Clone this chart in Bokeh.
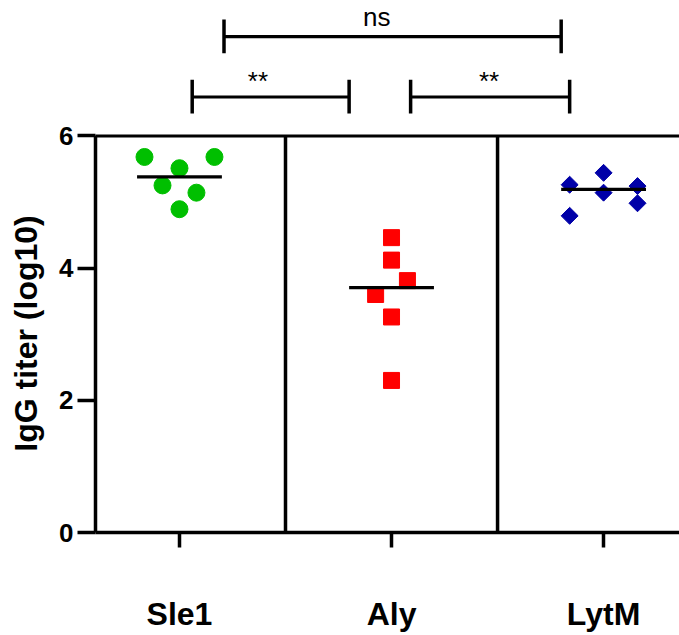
import numpy as np
from bokeh.plotting import figure
from bokeh.layouts import column
from bokeh.models import FixedTicker, Span, Range1d
from bokeh.core.properties import value
from bokeh.embed import file_html
from bokeh.resources import INLINE

# ---- data ----
groups = ["Sle1", "Aly", "LytM"]
sle1 = [5.68, 5.51, 5.68, 5.25, 5.14, 4.89]
aly = [4.46, 4.12, 3.81, 3.60, 3.26, 2.30]
lytm = [5.44, 5.26, 5.14, 5.24, 4.98, 4.79]
y_ticks = [0, 2, 4, 6]
comparisons = [("Sle1", "LytM", "ns"), ("Sle1", "Aly", "**"), ("Aly", "LytM", "**")]

# ---- layout (scatter offsets, bracket geometry) ----
sle1_dx = [-0.165, 0.0, 0.165, -0.08, 0.08, 0.0]
aly_dx = [0.0, 0.0, 0.075, -0.075, 0.0, 0.0]
lytm_dx = [0.0, -0.16, 0.0, 0.16, 0.16, -0.16]
bracket_geom = [  # x0, x1, y_line, cap_lo, cap_hi, text_x, text_y
    (0.21, 1.80, 7.50, 7.25, 7.76, 0.93, 7.80),
    (0.06, 0.80, 6.59, 6.34, 6.85, 0.37, 6.83),
    (1.09, 1.84, 6.59, 6.34, 6.85, 1.46, 6.83),
]

FONT = "Liberation Sans"
LW = 3.5
XR = Range1d(-0.396, 2.358)

# ---- top panel: significance brackets ----
top = figure(width=679, height=119, output_backend="svg", toolbar_location=None,
             x_range=XR, y_range=Range1d(6.25, 8.047),
             x_axis_location=None, y_axis_location=None,
             min_border_left=95, min_border_right=0, min_border_top=0,
             min_border_bottom=0)
top.outline_line_color = None
top.xgrid.visible = False
top.ygrid.visible = False
for (g0, g1, lab), (x0, x1, yl, clo, chi, tx, ty) in zip(comparisons, bracket_geom):
    top.segment(x0=[x0], y0=[yl], x1=[x1], y1=[yl], line_color="black", line_width=3.2)
    top.segment(x0=[x0, x1], y0=[clo, clo], x1=[x0, x1], y1=[chi, chi],
                line_color="black", line_width=3.5)
    top.text(x=[tx], y=[ty], text=[lab], text_align="center",
             text_baseline="alphabetic", text_font=value(FONT),
             text_font_size="26px", text_color="black")

# ---- main panel ----
p = figure(width=679, height=516, output_backend="svg", toolbar_location=None,
           x_range=XR, y_range=Range1d(0, 6.02),
           min_border_left=95, min_border_right=0, min_border_top=15,
           min_border_bottom=103)
p.outline_line_color = None
p.xgrid.visible = False
p.ygrid.visible = False

ya = p.yaxis[0]
ya.ticker = FixedTicker(ticks=y_ticks)
ya.bounds = (0, 6)
ya.axis_line_width = LW
ya.major_tick_line_width = LW
ya.major_tick_out = 18
ya.major_tick_in = 0
ya.minor_tick_line_color = None
ya.major_label_text_font = FONT
ya.major_label_text_font_style = "bold"
ya.major_label_text_font_size = "26px"
ya.major_label_text_color = "black"
ya.major_label_standoff = 4
ya.axis_label = "IgG titer (log10)"
ya.axis_label_text_font = FONT
ya.axis_label_text_font_style = "bold"
ya.axis_label_text_font_size = "32px"
ya.axis_label_text_color = "black"
ya.axis_label_standoff = 12

xa = p.xaxis[0]
xa.ticker = FixedTicker(ticks=[0, 1, 2])
xa.major_label_overrides = {i: g for i, g in enumerate(groups)}
xa.axis_line_width = LW
xa.major_tick_line_width = LW
xa.major_tick_out = 15
xa.major_tick_in = 0
xa.minor_tick_line_color = None
xa.major_label_text_font = FONT
xa.major_label_text_font_style = "bold"
xa.major_label_text_font_size = "32px"
xa.major_label_text_color = "black"
xa.major_label_standoff = 48

p.add_layout(Span(location=6, dimension="width", line_color="black", line_width=LW))
p.segment(x0=[0.5, 1.5], y0=[0, 0], x1=[0.5, 1.5], y1=[6, 6],
          line_color="black", line_width=LW)

series = [
    (sle1, sle1_dx, "circle", "#00bf00", 17, 0.0),
    (aly, aly_dx, "square", "#ff0000", 16, 0.0),
    (lytm, lytm_dx, "square", "#0000a8", 12, np.pi / 4),
]
for i, (vals, dx, marker, color, size, ang) in enumerate(series):
    xs = [i + d for d in dx]
    p.scatter(x=xs, y=vals, marker=marker, size=size, angle=ang,
              fill_color=color, line_color=color)

for i, (vals, *_r) in enumerate(series):
    m = float(np.median(vals))
    p.segment(x0=[i - 0.2], y0=[m], x1=[i + 0.2], y1=[m],
              line_color="black", line_width=3.2)

layout = column(top, p, spacing=0)
open("out.html", "w").write(file_html(layout, INLINE))
